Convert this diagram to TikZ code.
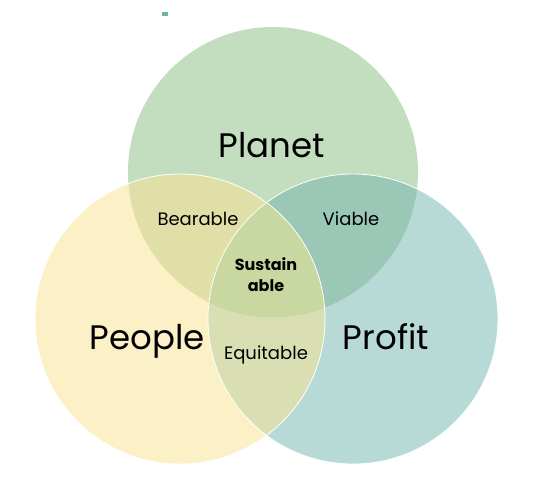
\documentclass[tikz,border=0pt]{standalone}
\usepackage{fontspec}
\setmainfont{Poppins}
\usetikzlibrary{positioning}
\definecolor{planetfill}{HTML}{C3DDBF}
\definecolor{peoplefill}{HTML}{FCF0C6}
\definecolor{profitfill}{HTML}{B8DAD6}
\definecolor{bearablefill}{HTML}{DFDFA7}
\definecolor{viablefill}{HTML}{9BC8B6}
\definecolor{equitablefill}{HTML}{D9DFB3}
\definecolor{sustainfill}{HTML}{C9D8A0}
\definecolor{markteal}{HTML}{6DB3AA}
\tikzstyle{pillar} = [font=\fontsize{34}{40}\selectfont, text=black, anchor=base]
\tikzstyle{overlap} = [font=\fontsize{18}{22}\selectfont, text=black, anchor=base]
\tikzstyle{core} = [font=\bfseries\fontsize{16}{21}\selectfont, text=black, align=center]
\tikzstyle{rim} = [draw=white, line width=0.8pt]

\begin{document}
\begin{tikzpicture}[x=1pt, y=-1pt]

\useasboundingbox (0,0) rectangle (536,488);
\fill [markteal] (162,12) rectangle (168,16);

\coordinate (planet) at (273,172);
\coordinate (people) at (180,319);
\coordinate (profit) at (353,319);

\fill [planetfill] (planet) circle [radius=145pt];
\fill [peoplefill] (people) circle [radius=145pt];
\fill [profitfill] (profit) circle [radius=145pt];

\begin{scope}
\clip (people) circle [radius=145pt];
\fill [equitablefill] (profit) circle [radius=145pt];
\end{scope}
\begin{scope}
\clip (planet) circle [radius=145pt];
\fill [bearablefill] (people) circle [radius=145pt];
\fill [viablefill] (profit) circle [radius=145pt];
\clip (people) circle [radius=145pt];
\fill [sustainfill] (profit) circle [radius=145pt];
\end{scope}

\draw [rim] (people) circle [radius=145pt];
\draw [rim] (profit) circle [radius=145pt];

\node (planetlabel) [pillar] at (272,157) {Planet};
\node (peoplelabel) [pillar] at (147,349) {People};
\node (profitlabel) [pillar] at (386,349) {Profit};
\node (bearable) [overlap] at (198,225) {Bearable};
\node (viable) [overlap] at (351,225) {Viable};
\node (equitable) [overlap] at (266,359) {Equitable};
\node (sustainable) [core] at (266,275) {Sustain\\able};

\end{tikzpicture}
\end{document}
